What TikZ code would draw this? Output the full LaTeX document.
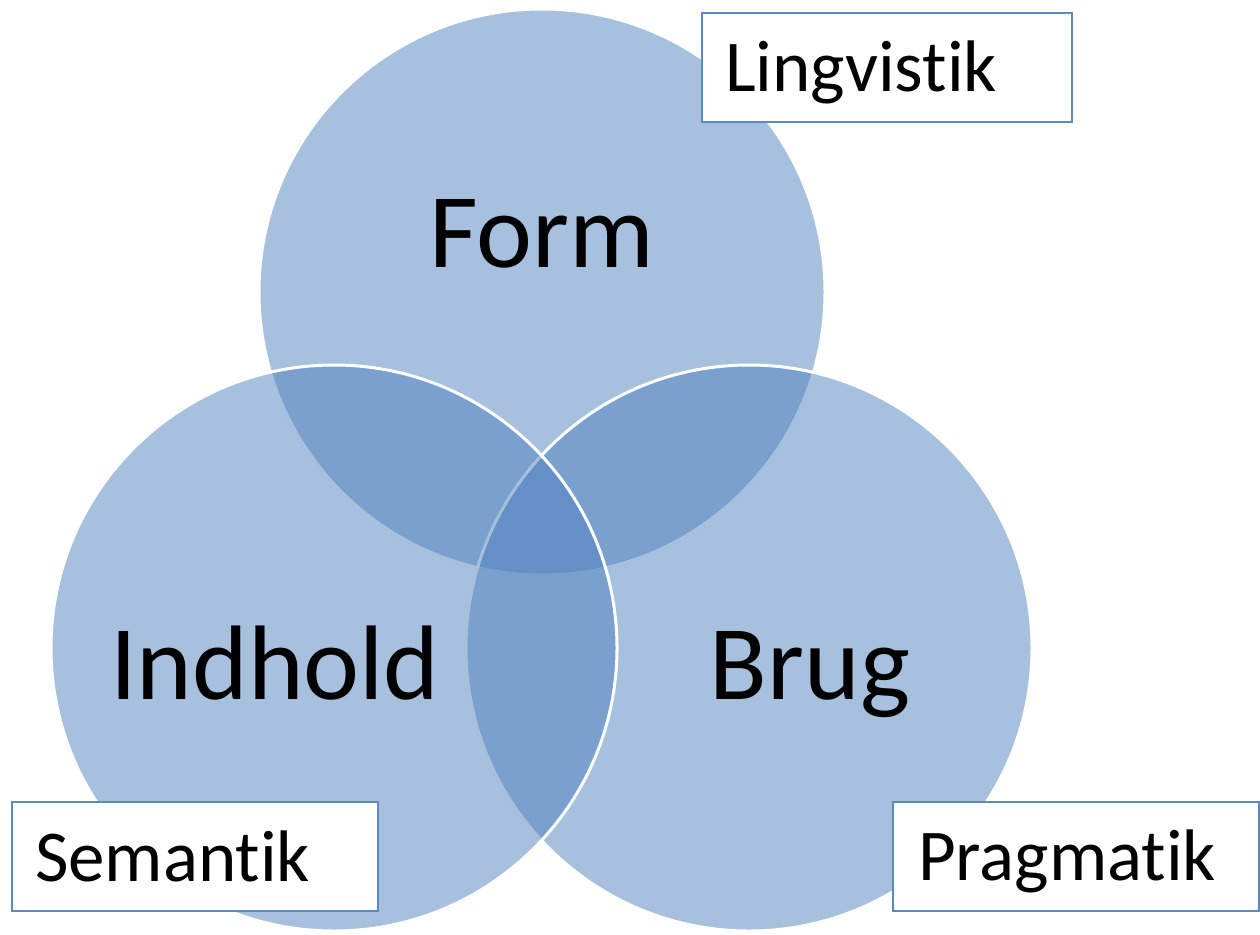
\documentclass[tikz,border=0pt]{standalone}
\usepackage{fontspec}
\setmainfont[RawFeature={-liga,-dlig,-calt}]{Carlito}
\definecolor{vennblue}{HTML}{4F81BD}
\definecolor{boxblue}{HTML}{5B89C2}
\begin{document}
\begin{tikzpicture}[x=1pt,y=-1pt,
  venn/.style={circle, draw=white, line width=3pt, fill=vennblue, fill opacity=0.5,
    minimum size=566pt, inner sep=0pt},
  bigtext/.style={font=\fontsize{106}{120}\selectfont, inner sep=0pt, anchor=base, text=black},
  labelbox/.style={rectangle, draw=boxblue, line width=1.5pt, fill=white,
    minimum height=109pt, inner ysep=0pt, align=left, text depth=0pt,
    font=\fontsize{73}{86}\selectfont, text=black}]
\useasboundingbox (0,0) rectangle (1260,934);
% circles: top, right, left (drawing order as in reference)
\node[venn] (cform) at (542,292) {};
\node[venn] (cbrug) at (749,648) {};
\node[venn] (cindhold) at (334,648) {};
% circle texts
\node[bigtext] (form) at (542,267) {Form};
\node[bigtext] (indhold) at (275,699) {Indhold};
\node[bigtext] (brug) at (810,699) {Brug};
% label boxes
\node[labelbox, minimum width=370pt, inner xsep=23pt, text width=324pt, text height=47pt]
  (lingvistik) at (887,67.5) {Lingvistik};
\node[labelbox, minimum width=366pt, inner xsep=23pt, text width=320pt, text height=50pt]
  (semantik) at (195,856.5) {Semantik};
\node[labelbox, minimum width=366pt, inner xsep=25pt, text width=316pt, text height=48pt]
  (pragmatik) at (1076,856.5) {Pragmatik};
\end{tikzpicture}
\end{document}
